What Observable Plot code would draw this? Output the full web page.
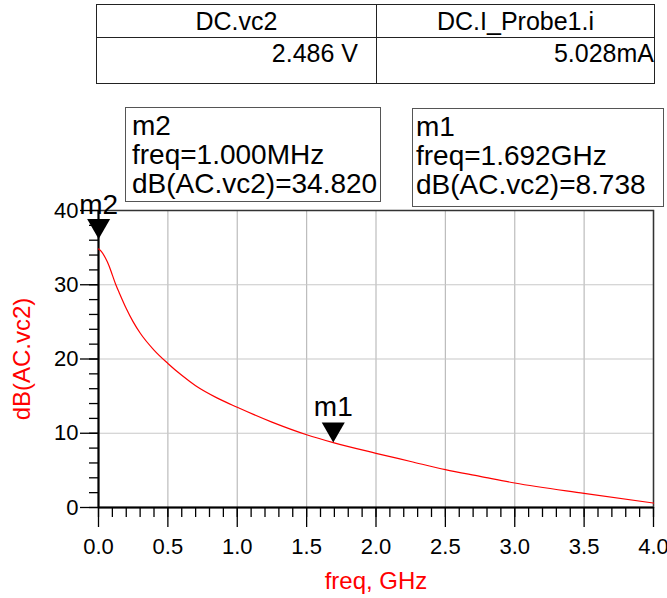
<!DOCTYPE html>
<html>
<head>
<meta charset="utf-8">
<script src="https://cdn.jsdelivr.net/npm/d3@7"></script>
<script src="https://cdn.jsdelivr.net/npm/@observablehq/plot@0.6"></script>
<style>
  html, body { margin: 0; padding: 0; background: #fff; }
  #wrap { position: relative; width: 667px; height: 598px; font-family: "Liberation Sans", Arial, sans-serif; }
  #wrap svg { position: absolute; left: 0; top: 0; }
  .tbl { position: absolute; left: 96px; top: 4px; width: 557px; height: 78px; border: 1.5px solid #222; box-sizing: content-box; font-size: 25px; color: #000; }
  .cell { position: absolute; box-sizing: border-box; }
  .mbox { position: absolute; border: 1.3px solid #555; background: #fff; font-size: 28px; line-height: 29px; color: #000; box-sizing: border-box; white-space: nowrap; }
</style>
</head>
<body>
<div id="wrap"></div>
<script>
// ---- data ----
const freqGHz = [0.001, 0.02, 0.05, 0.075, 0.1, 0.125, 0.15, 0.2, 0.25, 0.3, 0.4, 0.5, 0.6, 0.7, 0.85, 1.0, 1.25, 1.5, 1.692, 2.0, 2.25, 2.5, 2.75, 3.0, 3.5, 4.0];
const dBvc2   = [34.82, 34.5, 33.6, 32.6, 31.3, 30.0, 28.9, 26.8, 25.0, 23.5, 21.2, 19.4, 17.8, 16.4, 14.8, 13.5, 11.5, 9.8, 8.738, 7.3, 6.2, 5.1, 4.2, 3.3, 1.9, 0.6];

const markerNames = ["m2", "m1"];
const markerFreqGHz = [0.001, 1.692];
const markerDB = [34.820, 8.738];
const markerFreqText = ["freq=1.000MHz", "freq=1.692GHz"];
const markerValText = ["dB(AC.vc2)=34.820", "dB(AC.vc2)=8.738"];

const xMajorTicks = [0, 0.5, 1.0, 1.5, 2.0, 2.5, 3.0, 3.5, 4.0];
const xTickLabels = ["0.0", "0.5", "1.0", "1.5", "2.0", "2.5", "3.0", "3.5", "4.0"];
const xMinorTicks = d3.range(0, 41).map(i => i / 10);
const yMajorTicks = [0, 10, 20, 30, 40];
const yMinorTicks = d3.range(0, 21).map(i => i * 2);

const xTitle = "freq, GHz";
const yTitle = "dB(AC.vc2)";

const tableHeaders = ["DC.vc2", "DC.I_Probe1.i"];
const tableValues = ["2.486 V", "5.028mA"];

// ---- derived tables ----
const curve = freqGHz.map((f, i) => ({f, v: dBvc2[i]}));
const markers = markerNames.map((name, i) => ({name, f: markerFreqGHz[i], v: markerDB[i]}));

const downTriangle = {
  draw(ctx, size) {
    const s = Math.sqrt(size);
    const w = s * 1.3, h = s * 1.13;
    ctx.moveTo(-w / 2, -h);
    ctx.lineTo(w / 2, -h);
    ctx.lineTo(0, 0);
    ctx.closePath();
  }
};

const font = "'Liberation Sans', Arial, sans-serif";

const chart = Plot.plot({
  width: 667,
  height: 598,
  marginLeft: 98,
  marginRight: 14,
  marginTop: 210,
  marginBottom: 91,
  style: {fontFamily: font, fontSize: "22px", color: "#000", background: "transparent", overflow: "visible"},
  x: {domain: [0, 4]},
  y: {domain: [0, 40]},
  marks: [
    Plot.gridX(xMajorTicks, {stroke: "#bcbcbc", strokeOpacity: 1, strokeWidth: 1.2}),
    Plot.gridY(yMajorTicks, {stroke: "#c8c8c8", strokeOpacity: 1, strokeWidth: 1.2}),
    Plot.frame({stroke: "#333", strokeWidth: 1.5}),
    Plot.axisX(xMinorTicks, {tickSize: 10, tickFormat: () => "", stroke: "#000", strokeWidth: 1.3, label: null}),
    Plot.axisY(yMinorTicks, {tickSize: 9, tickFormat: () => "", stroke: "#000", strokeWidth: 1.3, label: null}),
    Plot.axisX(xMajorTicks, {tickSize: 20, tickPadding: 11, tickFormat: (d, i) => xTickLabels[i], stroke: "#000", strokeWidth: 1.3, fill: "#000", fontSize: 22, label: null}),
    Plot.axisY(yMajorTicks, {tickSize: 18, tickPadding: 2, stroke: "#000", strokeWidth: 1.3, fill: "#000", fontSize: 22, label: null}),
    Plot.ruleX([0], {stroke: "#000", strokeWidth: 2}),
    Plot.ruleY([0], {stroke: "#000", strokeWidth: 2}),
    Plot.line(curve, {x: "f", y: "v", stroke: "#ff0000", strokeWidth: 1.2, curve: "monotone-x"}),
    Plot.dot(markers.filter(d => d.name === "m1"), {x: "f", y: "v", symbol: downTriangle, r: 10, fill: "#000", stroke: "none"}),
    Plot.dot(markers.filter(d => d.name === "m2"), {x: "f", y: "v", symbol: downTriangle, r: 10, fill: "#000", stroke: "none", dy: -10}),
    Plot.text(markers.filter(d => d.name === "m1"), {x: "f", y: "v", text: "name", dy: -27, lineAnchor: "bottom", fontSize: 28, fill: "#000"}),
    Plot.text(markers.filter(d => d.name === "m2"), {x: "f", y: "v", text: "name", dy: -35, lineAnchor: "bottom", fontSize: 28, fill: "#000"}),
    Plot.text([yTitle], {frameAnchor: "left", dx: -76, rotate: -90, textAnchor: "middle", fill: "#ff0000", fontSize: 24}),
    Plot.text([xTitle], {frameAnchor: "bottom", dy: 81, lineAnchor: "bottom", textAnchor: "middle", fill: "#ff0000", fontSize: 24})
  ]
});

const wrap = document.getElementById("wrap");
wrap.appendChild(chart);

// ---- DC table ----
const tbl = document.createElement("div");
tbl.className = "tbl";
const colW = [280, 277];
let xs = 0;
tableHeaders.forEach((h, i) => {
  const head = document.createElement("div");
  head.className = "cell";
  Object.assign(head.style, {left: xs + "px", top: "0px", width: colW[i] + "px", height: "33px", textAlign: "center", lineHeight: "33px", borderBottom: "1.5px solid #222", borderRight: i === 0 ? "1.5px solid #222" : "none"});
  head.textContent = h;
  tbl.appendChild(head);
  const val = document.createElement("div");
  val.className = "cell";
  Object.assign(val.style, {left: xs + "px", top: "33px", width: colW[i] + "px", height: "45px", textAlign: "right", lineHeight: "30px", paddingRight: i === 0 ? "18px" : "0px", borderRight: i === 0 ? "1.5px solid #222" : "none"});
  val.textContent = tableValues[i];
  tbl.appendChild(val);
  xs += colW[i];
});
wrap.appendChild(tbl);

// ---- marker readout boxes ----
const boxGeom = [
  {left: 125, top: 107, width: 256, height: 95, pad: 6},
  {left: 412, top: 108, width: 252, height: 99, pad: 3}
];
markers.forEach((m, i) => {
  const b = document.createElement("div");
  b.className = "mbox";
  const g = boxGeom[i];
  Object.assign(b.style, {left: g.left + "px", top: g.top + "px", width: g.width + "px", height: g.height + "px", paddingLeft: g.pad + "px", paddingTop: "3px"});
  [m.name, markerFreqText[i], markerValText[i]].forEach(t => {
    const line = document.createElement("div");
    line.textContent = t;
    b.appendChild(line);
  });
  wrap.appendChild(b);
});
</script>
</body>
</html>
